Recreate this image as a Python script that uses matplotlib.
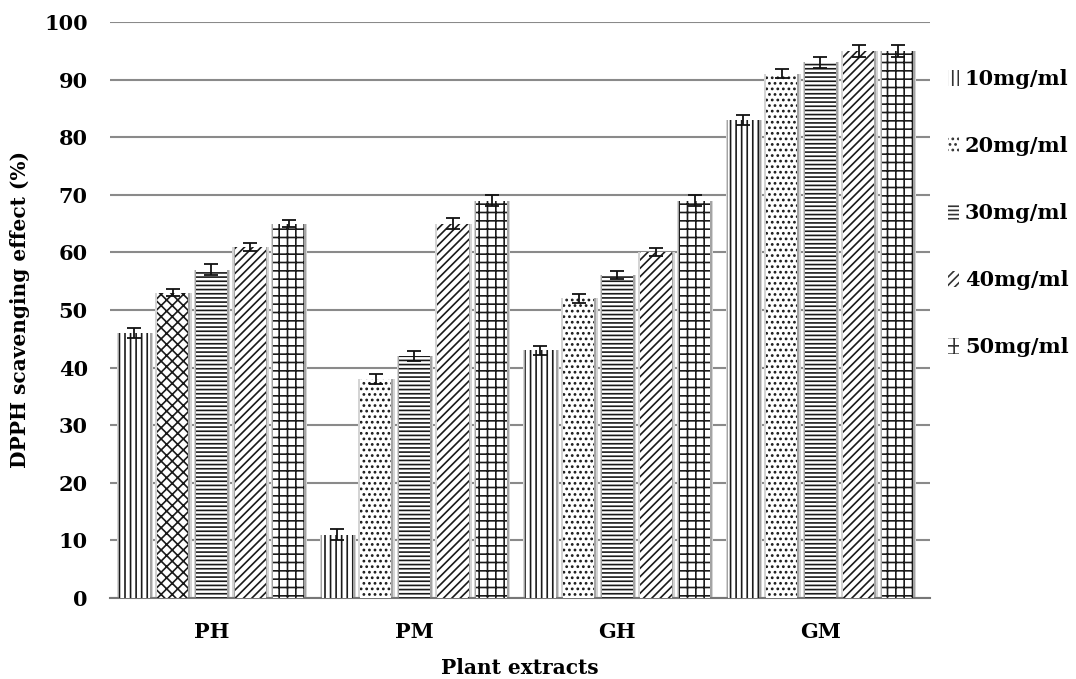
import numpy as np
import matplotlib
matplotlib.use("Agg")
import matplotlib.pyplot as plt
from matplotlib.patches import Patch

extracts = ["PH", "PM", "GH", "GM"]
concentrations = ["10mg/ml", "20mg/ml", "30mg/ml", "40mg/ml", "50mg/ml"]

# DPPH scavenging (%) per concentration, one value per extract
c10 = [46, 11, 43, 83]
c20 = [53, 38, 52, 91]
c30 = [57, 42, 56, 93]
c40 = [61, 65, 60, 95]
c50 = [65, 69, 69, 95]

e10 = [0.8, 0.9, 0.8, 0.9]
e20 = [0.6, 0.9, 0.7, 0.8]
e30 = [1.0, 0.9, 0.7, 1.0]
e40 = [0.7, 0.9, 0.7, 1.0]
e50 = [0.6, 0.9, 0.9, 1.0]

series = [c10, c20, c30, c40, c50]
errors = [e10, e20, e30, e40, e50]
hatches = ["|||", "...", "----", "////", "++"]

plt.rcParams["font.family"] = ["DejaVu Serif"]
plt.rcParams["font.weight"] = "bold"
plt.rcParams["hatch.linewidth"] = 1.2

fig = plt.figure(figsize=(10.76, 6.79), dpi=100)
ax = fig.add_axes([110 / 1076, 81 / 679, 820 / 1076, 576 / 679])

x = np.arange(len(extracts))
pitch = 0.19
width = 0.153

for i, (vals, errs, h) in enumerate(zip(series, errors, hatches)):
    pos = x + (i - 2) * pitch
    # soft gray shadow around bars
    ax.bar(pos + 0.003, vals, width=width + 0.026, color="#d4d4d4", lw=0, zorder=2)
    ax.bar(pos + 0.003, vals, width=width + 0.012, color="#a4a4a4", lw=0, zorder=2)
    for j, p in enumerate(pos):
        hatch = "xxx" if (i == 1 and j == 0) else h
        ax.bar(p, vals[j], width=width, color="white", edgecolor="#1a1a1a",
               hatch=hatch, lw=0, zorder=3)
    ax.errorbar(pos, vals, yerr=errs, fmt="none", ecolor="#111111",
                elinewidth=1.3, capsize=5, capthick=1.3, zorder=4)

ax.set_ylim(0, 100)
ax.set_xlim(-0.5, 3.54)
ax.set_yticks(range(0, 101, 10))
ax.set_xticks(x)
ax.set_xticklabels(extracts)
ax.tick_params(axis="both", length=0, labelsize=15)
ax.tick_params(axis="x", pad=17)
ax.tick_params(axis="y", pad=16)
ax.yaxis.grid(True, color="#8a8a8a", lw=1.5)
ax.set_axisbelow(True)
for s in ["top", "right", "left"]:
    ax.spines[s].set_visible(False)
ax.spines["bottom"].set_color("#777777")
ax.spines["bottom"].set_linewidth(1.5)

ax.set_ylabel("DPPH scavenging effect (%)", fontsize=14.5, fontweight="bold", labelpad=10)
ax.set_xlabel("Plant extracts", fontsize=14.5, fontweight="bold", labelpad=12)

handles = [Patch(facecolor="white", edgecolor="#333333", lw=0, hatch=h) for h in hatches]
leg = ax.legend(handles, concentrations, loc="center left", bbox_to_anchor=(1.012, 0.668),
                frameon=False, fontsize=15, handlelength=0.5, handleheight=0.8,
                handletextpad=0.3, labelspacing=2.25, borderaxespad=0)

fig.savefig("out.png", dpi=100)
